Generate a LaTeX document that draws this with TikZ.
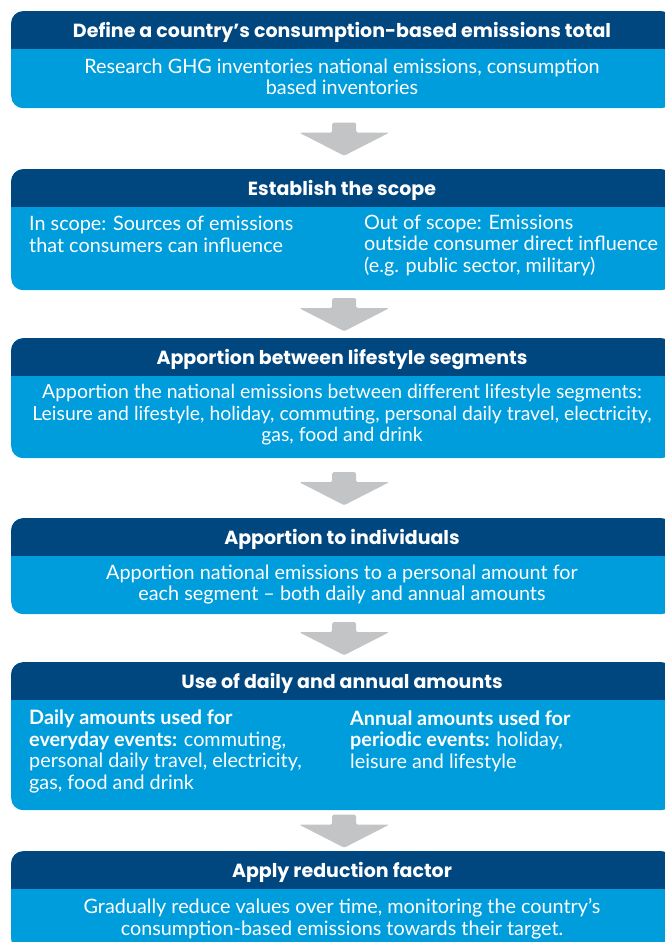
\documentclass[tikz,border=0pt]{standalone}
\usepackage{fontspec}
\setmainfont{Lato}
\newfontfamily\headfont{Poppins}
\usetikzlibrary{calc}

\definecolor{headblue}{HTML}{00467F}
\definecolor{bodyblue}{HTML}{009DDC}
\definecolor{arrowgray}{HTML}{C3C4C6}

\tikzset{
  stepbox/.style={rectangle, rounded corners=12pt, fill=bodyblue, minimum width=662pt,
    anchor=north west, inner sep=0pt,
    path picture={\fill[headblue, sharp corners] (path picture bounding box.north west)
      rectangle ([yshift=-38pt]path picture bounding box.north east);}},
  headtext/.style={text=white, text height=13pt, text depth=4pt,
    font=\headfont\fontsize{19}{22}\selectfont\bfseries},
  bodytext/.style={text=white, align=center, font=\fontsize{19.8}{21.5}\selectfont},
  coltext/.style={text=white, align=left, anchor=west, inner sep=0pt,
    font=\fontsize{19.8}{21.5}\selectfont},
  pics/downarrow/.style={code={
    \fill[arrowgray, rounded corners=1.5pt] (-12,-16) -- (12,-16) -- (12,-6) -- (45,-6)
      -- (0,17) -- (-45,-6) -- (-12,-6) -- cycle;}}
}

\begin{document}
\begin{tikzpicture}[x=1pt,y=-1pt]
\useasboundingbox (0,0) rectangle (664,942);

% the six steps
\node[stepbox, minimum height=97pt] (box1) at (11,11) {};
\node[stepbox, minimum height=121pt] (box2) at (11,169) {};
\node[stepbox, minimum height=120pt] (box3) at (11,338) {};
\node[stepbox, minimum height=96pt] (box4) at (11,518) {};
\node[stepbox, minimum height=148pt] (box5) at (11,662) {};
\node[stepbox, minimum height=100pt] (box6) at (11,851) {};

\begin{scope}[every node/.style={headtext}]
\node (hd1) at (342,33) {Define a country’s consumption-based emissions total};
\node (hd2) at (342,191) {Establish the scope};
\node (hd3) at (342,360) {Apportion between lifestyle segments};
\node (hd4) at (342,540) {Apportion to individuals};
\node (hd5) at (342,684) {Use of daily and annual amounts};
\node (hd6) at (342,873) {Apply reduction factor};
\end{scope}

\node[bodytext] (bd1) at (342,77) {Research GHG inventories national emissions, consumption\\based inventories};
\node[coltext] (inscope) at (29,234.5) {In scope: Sources of emissions\\that consumers can influence};
\node[coltext] (outscope) at (364,245.5) {Out of scope: Emissions\\outside consumer direct influence\\(e.g. public sector, military)};
\node[bodytext, font=\fontsize{19.4}{21.5}\selectfont] (bd3) at (342,415) {Apportion the national emissions between different lifestyle segments:\\Leisure and lifestyle, holiday, commuting, personal daily travel, electricity,\\gas, food and drink};
\node[bodytext] (bd4) at (342,584.5) {Apportion national emissions to a personal amount for\\each segment -- both daily and annual amounts};
\node[coltext] (daily) at (29,751.5) {\textbf{Daily amounts used for}\\\textbf{everyday events:} commuting,\\personal daily travel, electricity,\\gas, food and drink};
\node[coltext] (annual) at (350,741) {\textbf{Annual amounts used for}\\\textbf{periodic events:} holiday,\\leisure and lifestyle};
\node[bodytext] (bd6) at (342,918.5) {Gradually reduce values over time, monitoring the country’s\\consumption-based emissions towards their target.};

% arrows between steps
\foreach \a/\b in {box1/box2, box2/box3, box3/box4, box4/box5, box5/box6}
  \path ($(\a.south)!0.5!(\b.north)+(2,0)$) pic {downarrow};
\end{tikzpicture}
\end{document}
